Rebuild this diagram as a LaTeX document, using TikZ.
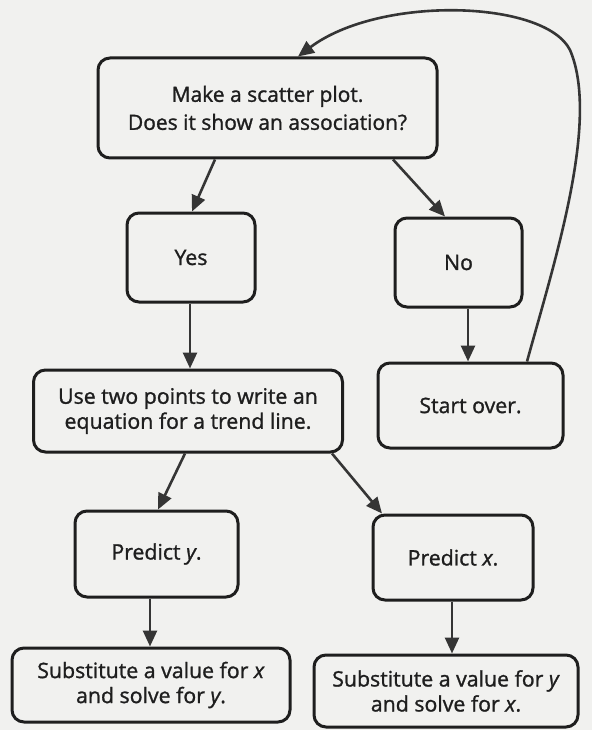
\documentclass[tikz,border=0pt]{standalone}
\usepackage{fontspec}
\setmainfont{Open Sans}
\newfontfamily\boxfont{Open Sans}[FakeBold=1.2]
\usetikzlibrary{arrows.meta}
\definecolor{ink}{HTML}{1E1E1E}
\definecolor{paper}{HTML}{F1F1EF}
\tikzset{
  box/.style={draw=ink, line width=3pt, rounded corners=12pt, align=center,
    font=\boxfont\fontsize{21.3}{25}\selectfont, text=ink, inner sep=0pt},
  bigtext/.style={font=\boxfont\fontsize{21}{28}\selectfont},
  conn/.style={draw=ink!90, line width=2.6pt, -{Triangle[length=16pt,width=14pt]}},
}
\begin{document}
\begin{tikzpicture}[x=1pt,y=-1pt]
\fill[paper] (0,0) rectangle (592,730);
\useasboundingbox (0,0) rectangle (592,730);
\node[box, bigtext, minimum width=339pt, minimum height=100pt] (top) at (267.5,108) {Make a scatter plot.\\Does it show an association?};
\node[box, minimum width=128pt, minimum height=89pt] (yes) at (191,257.5) {Yes};
\node[box, minimum width=127pt, minimum height=89pt] (no) at (458.5,262.5) {No};
\node[box, minimum width=309pt, minimum height=82pt] (trend) at (188,411) {Use two points to write an\\equation for a trend line.};
\node[box, minimum width=185pt, minimum height=85pt] (start) at (470.5,405.5) {Start over.};
\node[box, minimum width=163pt, minimum height=86pt] (py) at (156.5,554) {Predict \textit{y}.};
\node[box, minimum width=160pt, minimum height=85pt] (px) at (453,557.5) {Predict \textit{x}.};
\node[box, minimum width=278pt, minimum height=74pt] (sx) at (151,685) {Substitute a value for \textit{x}\\and solve for \textit{y}.};
\node[box, minimum width=264pt, minimum height=72pt] (sy) at (446,691) {Substitute a value for \textit{y}\\and solve for \textit{x}.};
\draw[conn] (top.south -| 215,0) -- (yes.north -| 192,0);
\draw[conn] (top.south -| 393,0) -- (no.north -| 445,0);
\draw[conn] (yes.south -| 190,0) -- (trend.north -| 190,0);
\draw[conn] (no.south -| 468,0) -- (start.north -| 468,0);
\draw[conn] (trend.south -| 185,0) -- (py.north -| 158,0);
\draw[conn] (trend.south -| 332,0) -- (px.north -| 382,0);
\draw[conn] (py.south -| 150,0) -- (sx.north -| 150,0);
\draw[conn] (px.south -| 452,0) -- (sy.north -| 452,0);
\draw[conn] (start.north -| 527,0) .. controls (555,260) and (600,120) .. (570,50)
  .. controls (545,0) and (380,-5) .. (top.north -| 298,0);
\end{tikzpicture}
\end{document}
